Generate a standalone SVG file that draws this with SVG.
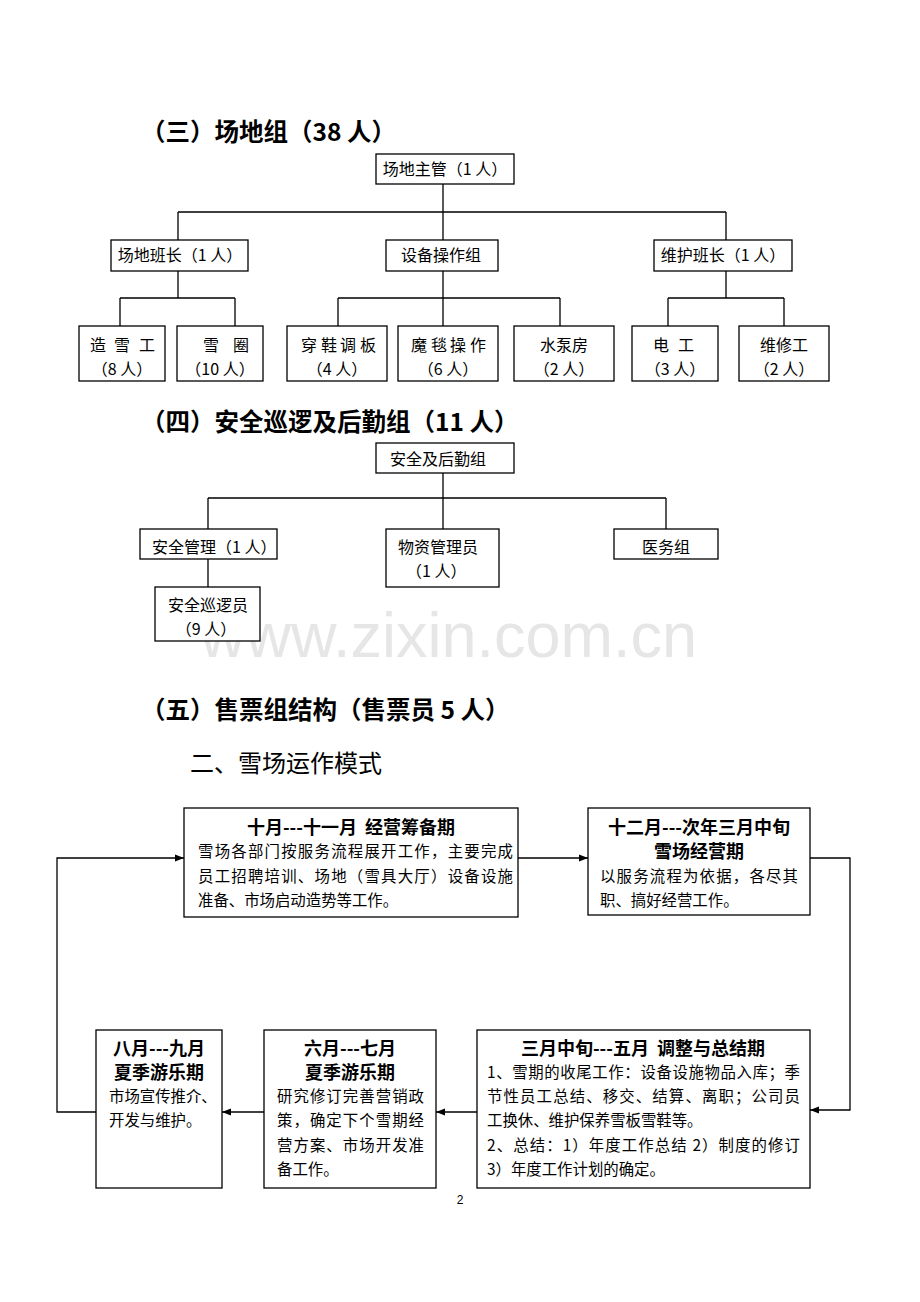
<svg xmlns="http://www.w3.org/2000/svg" width="920" height="1302" viewBox="0 0 920 1302">
<style>
.h{font-family:"Noto Sans CJK SC","Liberation Sans",sans-serif;font-weight:bold;font-size:24.5px;fill:#000}
.h2{font-family:"Noto Sans CJK SC","Liberation Sans",sans-serif;font-size:24px;fill:#000}
.t{font-family:"Noto Sans CJK SC","Liberation Sans",sans-serif;font-size:16px;fill:#000}
.b{font-family:"Noto Sans CJK SC","Liberation Sans",sans-serif;font-size:15.4px;fill:#000}
.bt{font-family:"Noto Sans CJK SC","Liberation Sans",sans-serif;font-size:18px;font-weight:bold;fill:#000}
.box{fill:#fff;stroke:#000;stroke-width:1.3}
.ln{fill:none;stroke:#000;stroke-width:1.3}
.c{text-anchor:middle}
</style>
<defs>
<marker id="ar" viewBox="0 0 10 10" refX="10" refY="5" markerWidth="9" markerHeight="9" markerUnits="userSpaceOnUse" orient="auto">
<path d="M0,1 L10,5 L0,9 z" fill="#000"/>
</marker>
</defs>
<rect width="920" height="1302" fill="#fff"/>
<text x="200" y="657" style="font-family:'Liberation Sans',sans-serif;font-size:63px;fill:#e6e6e6">www.zixin.com.cn</text>

<text class="h" x="141" y="141">（三）场地组（38 人）</text>
<text class="h" x="141" y="431">（四）安全巡逻及后勤组（11 人）</text>
<text class="h" x="141" y="719">（五）售票组结构（售票员 5 人）</text>
<text class="h2" x="190" y="772">二、雪场运作模式</text>

<g id="connectors">
<path class="ln" d="M443,184 V240 M178,212 H726 M178,212 V240 M726,212 V240"/>
<path class="ln" d="M178,271 V298 M120,298 H235 M120,298 V326 M235,298 V326"/>
<path class="ln" d="M443,271 V326 M338,298 H560 M338,298 V326 M560,298 V326"/>
<path class="ln" d="M726,271 V298 M668,298 H784 M668,298 V326 M784,298 V326"/>
<path class="ln" d="M443,473 V529 M208,498 H666 M208,498 V529 M666,498 V529 M208,559 V587"/>
<path class="ln" d="M518,858 H588" marker-end="url(#ar)"/>
<path class="ln" d="M810,858 H850 V1110 H810" marker-end="url(#ar)"/>
<path class="ln" d="M477,1112 H436" marker-end="url(#ar)"/>
<path class="ln" d="M264,1112 H222" marker-end="url(#ar)"/>
<path class="ln" d="M96,1112 H57 V858 H184" marker-end="url(#ar)"/>
</g>

<g id="n-zhuguan"><rect class="box" x="376" y="154" width="138" height="30"/><text class="t c" x="445" y="175">场地主管（1 人）</text></g>
<g id="n-banzhang"><rect class="box" x="111" y="240" width="137" height="31"/><text class="t c" x="180" y="261">场地班长（1 人）</text></g>
<g id="n-shebei"><rect class="box" x="386" y="240" width="112" height="31"/><text class="t c" x="441" y="261">设备操作组</text></g>
<g id="n-weihu"><rect class="box" x="654" y="240" width="138" height="31"/><text class="t c" x="723" y="261">维护班长（1 人）</text></g>

<g id="n-zaoxue"><rect class="box" x="79" y="326" width="86" height="55"/><text class="t c" x="98 122 147" y="351">造雪工</text><text class="t c" x="122" y="375">（8 人）</text></g>
<g id="n-xuequan"><rect class="box" x="177" y="326" width="86" height="55"/><text class="t c" x="211 241" y="351">雪圈</text><text class="t c" x="220" y="375">（10 人）</text></g>
<g id="n-chuanxie"><rect class="box" x="287" y="326" width="100" height="55"/><text class="t c" x="309 329 348 368" y="351">穿鞋调板</text><text class="t c" x="337" y="375">（4 人）</text></g>
<g id="n-motan"><rect class="box" x="398" y="326" width="100" height="55"/><text class="t c" x="419 439 458 478" y="351">魔毯操作</text><text class="t c" x="448" y="375">（6 人）</text></g>
<g id="n-shuibeng"><rect class="box" x="514" y="326" width="100" height="55"/><text class="t c" x="564" y="351">水泵房</text><text class="t c" x="564" y="375">（2 人）</text></g>
<g id="n-diangong"><rect class="box" x="632" y="326" width="86" height="55"/><text class="t c" x="661 686" y="351">电工</text><text class="t c" x="675" y="375">（3 人）</text></g>
<g id="n-weixiu"><rect class="box" x="739" y="326" width="90" height="55"/><text class="t c" x="784" y="351">维修工</text><text class="t c" x="784" y="375">（2 人）</text></g>

<g id="n-anquanhouqin"><rect class="box" x="376" y="443" width="138" height="30"/><text class="t" x="390" y="465">安全及后勤组</text></g>
<g id="n-anquanguanli"><rect class="box" x="140" y="529" width="137" height="30"/><text class="t" x="152" y="553">安全管理（1 人）</text></g>
<g id="n-wuzi"><rect class="box" x="386" y="529" width="113" height="58"/><text class="t" x="398" y="553">物资管理员</text><text class="t" x="406" y="577">（1 人）</text></g>
<g id="n-yiwu"><rect class="box" x="614" y="529" width="104" height="30"/><text class="t c" x="666" y="553">医务组</text></g>
<g id="n-xunluo"><rect class="box" x="155" y="587" width="105" height="54"/><text class="t c" x="208" y="611">安全巡逻员</text><text class="t c" x="206" y="635">（9 人）</text></g>

<g id="f-choubei"><rect class="box" x="184" y="808" width="334" height="109"/>
<text class="bt c" x="351" y="834" xml:space="preserve">十月---十一月  经营筹备期</text>
<text class="b" x="198" y="857" textLength="315">雪场各部门按服务流程展开工作，主要完成</text>
<text class="b" x="198" y="882" textLength="315">员工招聘培训、场地（雪具大厅）设备设施</text>
<text class="b" x="198" y="906">准备、市场启动造势等工作。</text></g>

<g id="f-jingying"><rect class="box" x="588" y="808" width="222" height="107"/>
<text class="bt c" x="699" y="834">十二月---次年三月中旬</text>
<text class="bt c" x="699" y="858">雪场经营期</text>
<text class="b" x="600" y="882" textLength="198">以服务流程为依据，各尽其</text>
<text class="b" x="600" y="906">职、搞好经营工作。</text></g>

<g id="f-zongjie"><rect class="box" x="477" y="1030" width="333" height="158"/>
<text class="bt c" x="643" y="1055" xml:space="preserve">三月中旬---五月  调整与总结期</text>
<text class="b" x="487" y="1078" textLength="313">1、雪期的收尾工作：设备设施物品入库；季</text>
<text class="b" x="487" y="1102" textLength="313">节性员工总结、移交、结算、离职；公司员</text>
<text class="b" x="487" y="1126">工换休、维护保养雪板雪鞋等。</text>
<text class="b" x="487" y="1151" textLength="313">2、总结：1）年度工作总结 2）制度的修订</text>
<text class="b" x="487" y="1175">3）年度工作计划的确定。</text></g>

<g id="f-liuqi"><rect class="box" x="264" y="1030" width="172" height="158"/>
<text class="bt c" x="350" y="1055">六月---七月</text>
<text class="bt c" x="350" y="1079">夏季游乐期</text>
<text class="b" x="277" y="1102" textLength="147">研究修订完善营销政</text>
<text class="b" x="277" y="1126" textLength="147">策，确定下个雪期经</text>
<text class="b" x="277" y="1151" textLength="147">营方案、市场开发准</text>
<text class="b" x="277" y="1175">备工作。</text></g>

<g id="f-bajiu"><rect class="box" x="96" y="1030" width="126" height="158"/>
<text class="bt c" x="159" y="1055">八月---九月</text>
<text class="bt c" x="159" y="1079">夏季游乐期</text>
<text class="b" x="109" y="1102">市场宣传推介、</text>
<text class="b" x="109" y="1126">开发与维护。</text></g>

<text x="460" y="1204" class="c" style="font-family:'Liberation Sans',sans-serif;font-size:12px">2</text>
</svg>
